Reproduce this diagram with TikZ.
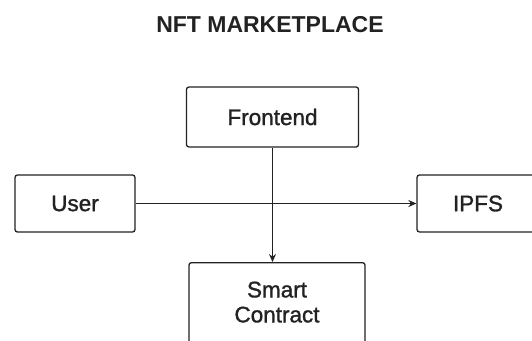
\documentclass[tikz,border=0pt]{standalone}
\usepackage{fontspec}
\setmainfont{Liberation Sans}
\newfontfamily\medfont[FakeBold=1.3]{Liberation Sans}
\usetikzlibrary{arrows.meta}
\definecolor{ink}{HTML}{222222}
\begin{document}
\begin{tikzpicture}[x=1pt,y=-1pt,
  box/.style={draw=ink, line width=1.3pt, rounded corners=2.5pt, fill=white, text=ink,
    font=\medfont\fontsize{22.5}{25}\selectfont, align=center},
  conn/.style={draw=ink, line width=1.3pt, -{Stealth[length=8pt,width=7pt]}}]
\useasboundingbox (0,0) rectangle (532,340);
\clip (0,0) rectangle (532,340);
\node[text=ink, font=\fontsize{23}{26}\bfseries\selectfont, anchor=base] (title) at (270,32.5) {NFT MARKETPLACE};
\node[box, minimum width=172pt, minimum height=60pt] (fe) at (272.5,117) {Frontend};
\node[box, minimum width=120pt, minimum height=57pt] (user) at (75,203.5) {User};
\node[box, minimum width=122pt, minimum height=57pt] (ipfs) at (478,203.5) {IPFS};
\node[box, minimum width=176pt, inner ysep=19pt, text depth=40pt, anchor=north] (sc) at (277,262) {Smart\\Contract};
\draw[conn] (user.east) -- (ipfs.west);
\draw[conn] (fe.south) -- (fe.south |- sc.north);
\end{tikzpicture}
\end{document}
